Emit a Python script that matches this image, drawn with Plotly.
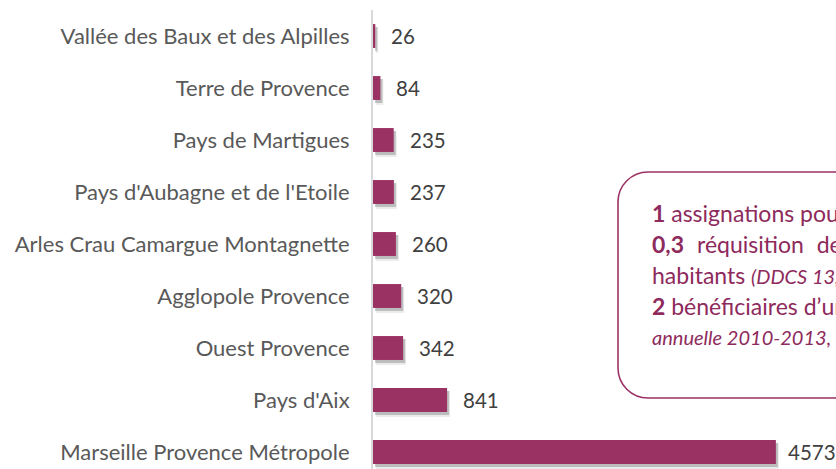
import plotly.graph_objects as go

# Territoires (top to bottom) and counts
territoires = [
    "Vallée des Baux et des Alpilles",
    "Terre de Provence",
    "Pays de Martigues",
    "Pays d'Aubagne et de l'Etoile",
    "Arles Crau Camargue Montagnette",
    "Agglopole Provence",
    "Ouest Provence",
    "Pays d'Aix",
    "Marseille Provence Métropole",
]
valeurs = [26, 84, 235, 237, 260, 320, 342, 841, 4573]

# Text of the callout box (one entry per line); italic sources set a bit tighter
IT = '<span style="font-size:20px"><i>{}</i></span>'
GAP = "\u2002\u200a"
encadre = [
    "<b>1</b> assignations pour 1 000 ménages locataires",
    GAP.join(["<b>0,3</b>", "réquisition", "de", "la", "force", "publique"]),
    "habitants " + IT.format("(DDCS 13, 2013)"),
    "<b>2</b> bénéficiaires d\u2019une aide FSL pour 1 000",
    IT.format("annuelle 2010-2013, CG 13)"),
]

W, H = 836, 469
ML, MT = 373, 10
PW, PH = W - ML, H - MT
PX_PER_UNIT = 0.0881
BAR_COLOR = "#9B3264"
BOX_COLOR = "#9B3264"
TEXT_BOX = "#8E2A5C"
FONT = "Lato"


def px_x(px):
    return (px - ML) / PW


def px_y(py):
    return 1 - (py - MT) / PH


fig = go.Figure()

# soft drop shadow under each bar (two layers)
bw = 0.46
for dx, dy, extra, alpha in [(3, 4, 2, 0.08), (2, 3, 0, 0.20)]:
    fig.add_trace(go.Bar(
        x=valeurs, y=territoires, orientation="h",
        base=dx / PX_PER_UNIT,
        width=bw + extra / 52, offset=-bw / 2 + dy / 52 - extra / 104,
        marker=dict(color=f"rgba(0,0,0,{alpha})", line=dict(width=0)),
        hoverinfo="skip", showlegend=False,
    ))

fig.add_trace(go.Bar(
    x=valeurs, y=territoires, orientation="h",
    width=bw, offset=-bw / 2,
    marker=dict(color=BAR_COLOR, line=dict(width=0)),
    showlegend=False,
))

# value labels (the longest bar's label sits a little closer)
for i, (t, v) in enumerate(zip(territoires, valeurs)):
    fig.add_annotation(
        x=v, y=t, xref="x", yref="y", text=str(v), showarrow=False,
        xanchor="left", yanchor="middle",
        xshift=10 if i == len(valeurs) - 1 else 14,
        font=dict(family=FONT, size=20.5, color="#404040"),
    )

# rounded callout box
L, T, B, R, r = 618, 172, 398, 1000, 30
k = 0.5523 * r
path = (
    f"M {px_x(L + r)},{px_y(T)} L {px_x(R)},{px_y(T)} L {px_x(R)},{px_y(B)} "
    f"L {px_x(L + r)},{px_y(B)} "
    f"C {px_x(L + r - k)},{px_y(B)} {px_x(L)},{px_y(B - r + k)} {px_x(L)},{px_y(B - r)} "
    f"L {px_x(L)},{px_y(T + r)} "
    f"C {px_x(L)},{px_y(T + r - k)} {px_x(L + r - k)},{px_y(T)} {px_x(L + r)},{px_y(T)} Z"
)
fig.add_shape(type="path", path=path, xref="paper", yref="paper",
              line=dict(color=BOX_COLOR, width=1.6), fillcolor="rgba(0,0,0,0)")

baselines = [220, 251, 282, 313, 344]
for txt, bl in zip(encadre, baselines):
    fig.add_annotation(
        x=px_x(650), y=px_y(bl - 7), xref="paper", yref="paper",
        text=txt, showarrow=False, xanchor="left", yanchor="middle",
        align="left", font=dict(family=FONT, size=23, color=TEXT_BOX),
    )

fig.update_layout(
    width=W, height=H,
    margin=dict(l=ML, r=0, t=MT, b=0, pad=0),
    paper_bgcolor="white", plot_bgcolor="white",
    barmode="overlay",
    xaxis=dict(range=[0, PW / PX_PER_UNIT], visible=False, showgrid=False, zeroline=False),
    yaxis=dict(
        type="category", categoryorder="array", categoryarray=territoires,
        range=[-0.5 + PH / 52, -0.5],
        showline=True, linecolor="#D9D9D9", linewidth=2,
        showgrid=False, zeroline=False, ticks="",
        ticklabelstandoff=17,
        tickfont=dict(family=FONT, size=22, color="#595959"),
    ),
    showlegend=False,
)

fig.write_html("out.html")
